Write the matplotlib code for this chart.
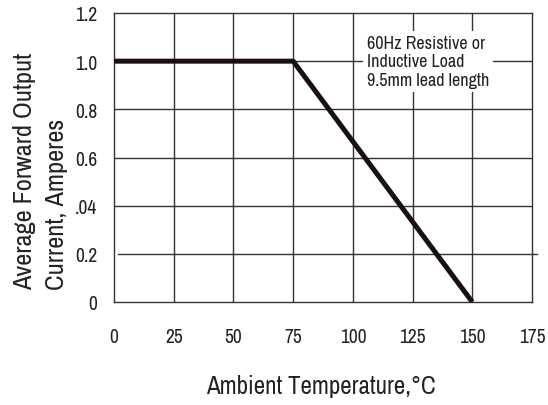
import matplotlib.pyplot as plt
from matplotlib import font_manager

# curva de derating
temp = [0, 75, 150]
corriente = [1.0, 1.0, 0.0]

x_ticks = [0, 25, 50, 75, 100, 125, 150, 175]
y_ticks = [0, 0.2, 0.4, 0.6, 0.8, 1.0, 1.2]
y_labels = ['0', '0.2', '.04', '0.6', '0.8', '1.0', '1.2']

nombres = {f.name for f in font_manager.fontManager.ttflist}
candidatas = ['Liberation Sans Narrow', 'Arial Narrow', 'Archivo Narrow',
              'PT Sans Narrow', 'Roboto Condensed', 'DejaVu Sans']
fuente = next(c for c in candidatas if c in nombres)
plt.rcParams['font.family'] = [fuente, 'DejaVu Sans']

fig = plt.figure(figsize=(5.48, 4.06), dpi=100)
ax = fig.add_axes([114 / 548, 1 - 303 / 406, (532 - 114) / 548, (303 - 14) / 406])

gris = '#333333'
for x in x_ticks[1:-1]:
    ax.axvline(x, color=gris, lw=1.0, zorder=1)
for y in y_ticks[2:-1]:
    ax.axhline(y, color=gris, lw=1.0, zorder=1)
# la linea de 0.2 sobresale un poco a la derecha
ax.plot([1.5, 177], [0.2, 0.2], color=gris, lw=1.0, zorder=1, clip_on=False)

ax.plot(temp, corriente, color='#1a1010', lw=3.6, solid_capstyle='butt', zorder=3)

ax.set_xlim(0, 175)
ax.set_ylim(0, 1.2)
ax.set_xticks(x_ticks)
ax.set_yticks(y_ticks)
ax.set_yticklabels(y_labels)
ax.tick_params(axis='both', length=0, labelsize=14, colors='#222222')
ax.tick_params(axis='x', pad=18)
ax.tick_params(axis='y', pad=12)
for s in ax.spines.values():
    s.set_color(gris)
    s.set_linewidth(1.0)

ax.text(0.605, 0.925,
        '60Hz Resistive or\nInductive Load\n9.5mm lead length',
        transform=ax.transAxes, ha='left', va='top', fontsize=13,
        linespacing=1.2, color='#222222', zorder=4,
        bbox=dict(facecolor='white', edgecolor='none', pad=3))

fig.text(0.585, 0.047, 'Ambient Temperature,°C', ha='center', va='center',
         fontsize=18, color='#222222')
fig.text(25 / 548, 1 - 290 / 406, 'Average Forward Output', rotation=90,
         rotation_mode='anchor', ha='left', va='center', fontsize=19,
         color='#222222')
fig.text(57 / 548, 1 - 290 / 406, 'Current, Amperes', rotation=90,
         rotation_mode='anchor', ha='left', va='center', fontsize=19,
         color='#222222')

fig.savefig('out.png', dpi=100)
